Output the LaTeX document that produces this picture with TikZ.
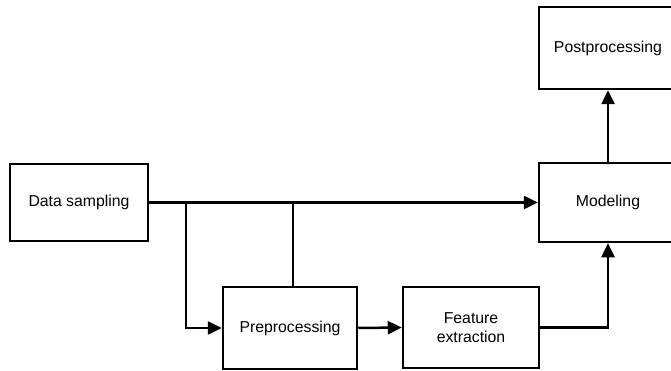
\documentclass[tikz,border=0pt]{standalone}
\usepackage{fontspec}
\setmainfont{Liberation Sans}
\usetikzlibrary{arrows.meta}
\begin{document}
\begin{tikzpicture}[x=1pt,y=1pt,
  blk/.style={draw=black, line width=2.5pt, fill=white, inner sep=0pt,
    align=center, font=\fontsize{15.8}{19}\selectfont},
  conn/.style={line width=2.5pt, draw=black},
  arr/.style={conn, -{Triangle[length=14pt,width=13pt]}}]
\useasboundingbox (0,0) rectangle (671,-371);
\clip (0,0) rectangle (671,-371);
\node[blk, minimum width=138pt, minimum height=77pt] (ds) at (79,-202.5) {Data sampling};
\node[blk, minimum width=138pt, minimum height=79pt] (mod) at (608,-202.5) {Modeling};
\node[blk, minimum width=138pt, minimum height=82pt] (post) at (608,-48) {Postprocessing};
\node[blk, minimum width=134pt, minimum height=82pt] (pre) at (290,-328) {Preprocessing};
\node[blk, minimum width=136pt, minimum height=81pt] (fe) at (471,-327.5) {Feature\\extraction};
\coordinate (j1) at (186,-202.5);
\coordinate (j2) at ([xshift=3pt]pre.north |- ds.east);
\draw[arr] (ds.east) -- (mod.west);
\draw[arr] (j1) |- (pre.west);
\draw[conn] ([xshift=3pt]pre.north) -- (j2);
\draw[arr] (pre.east) -- (fe.west);
\draw[arr] (fe.east) -| (mod.south);
\draw[arr] (mod.north) -- (post.south);
\end{tikzpicture}
\end{document}
